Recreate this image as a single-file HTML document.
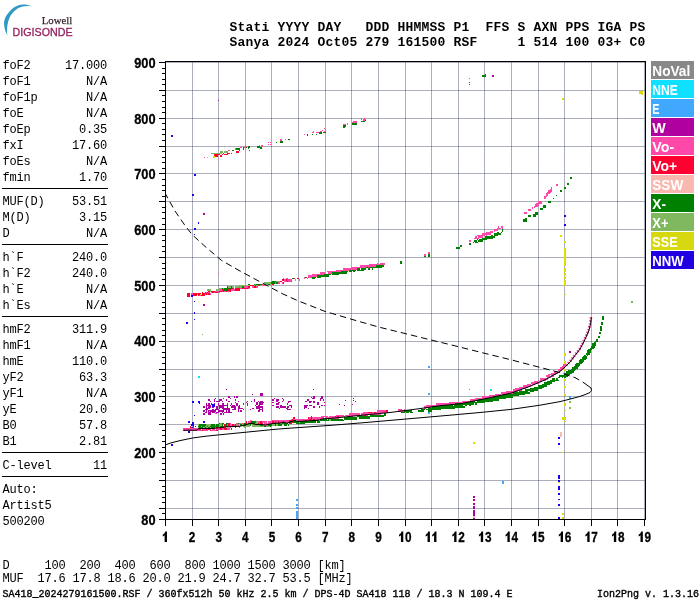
<!DOCTYPE html>
<html><head><meta charset="utf-8"><title>Ionogram</title>
<style>html,body{margin:0;padding:0;background:#fff;}svg{display:block;will-change:transform;}text{font-family:"Liberation Mono",monospace;}.m{font-family:"Liberation Mono",monospace;font-size:12px;letter-spacing:-0.2px;fill:#000;}.h{font-family:"Liberation Mono",monospace;font-size:13px;font-weight:bold;letter-spacing:0.2px;fill:#000;}.f{font-family:"Liberation Mono",monospace;font-size:10px;fill:#000;stroke:#000;stroke-width:0.35px;}.a{font-family:"Liberation Sans",sans-serif;font-size:14.7px;font-weight:bold;fill:#000;stroke:#000;stroke-width:0.3px;}.l{font-family:"Liberation Sans",sans-serif;font-size:14.2px;font-weight:bold;fill:#fff;}</style></head><body>
<svg width="700" height="600" viewBox="0 0 700 600">
<rect x="0" y="0" width="700" height="600" fill="#fff"/>
<g>
<path d="M32.3,6.4 C28,4.6 25,4.4 22.5,4.6 C18,5 14,7 11.2,9.8 C8,13 5.6,16.5 4.9,18.8 C4.1,21 3.9,23 4.1,24.8 C4.4,29 5.8,33 7.5,35.6 C7,33.5 6.9,32 7.1,30 C7.1,28 7.2,26.5 7.5,24.8 C8,22 8.7,19.5 9.75,17.25 C11,14.5 13,12.2 15,10.5 C17,8.8 19.5,7.3 22.5,6.6 C25.5,5.9 28.5,5.9 32.3,6.4 Z" fill="#2f98c4"/>
<text x="41.8" y="23.8" textLength="30.5" lengthAdjust="spacingAndGlyphs" style="font-family:'Liberation Serif',serif;font-size:11px;fill:#3a2832;stroke:#3a2832;stroke-width:0.25px">Lowell</text>
<text x="12.6" y="36" textLength="60" lengthAdjust="spacingAndGlyphs" style="font-family:'Liberation Sans',sans-serif;font-size:10.5px;fill:#94225f;stroke:#94225f;stroke-width:0.3px">DIGISONDE</text>
</g>
<text class="h" x="229.5" y="31" xml:space="preserve">Stati YYYY DAY   DDD HHMMSS P1  FFS S AXN PPS IGA PS</text>
<text class="h" x="229.5" y="46" xml:space="preserve">Sanya 2024 Oct05 279 161500 RSF     1 514 100 03+ C0</text>
<text class="m" x="2.5" y="68.5">foF2</text>
<text class="m" x="107" y="68.5" text-anchor="end">17.000</text>
<text class="m" x="2.5" y="84.5">foF1</text>
<text class="m" x="107" y="84.5" text-anchor="end">N/A</text>
<text class="m" x="2.5" y="100.5">foF1p</text>
<text class="m" x="107" y="100.5" text-anchor="end">N/A</text>
<text class="m" x="2.5" y="116.5">foE</text>
<text class="m" x="107" y="116.5" text-anchor="end">N/A</text>
<text class="m" x="2.5" y="132.5">foEp</text>
<text class="m" x="107" y="132.5" text-anchor="end">0.35</text>
<text class="m" x="2.5" y="148.5">fxI</text>
<text class="m" x="107" y="148.5" text-anchor="end">17.60</text>
<text class="m" x="2.5" y="164.5">foEs</text>
<text class="m" x="107" y="164.5" text-anchor="end">N/A</text>
<text class="m" x="2.5" y="180.5">fmin</text>
<text class="m" x="107" y="180.5" text-anchor="end">1.70</text>
<text class="m" x="2.5" y="204.5">MUF(D)</text>
<text class="m" x="107" y="204.5" text-anchor="end">53.51</text>
<text class="m" x="2.5" y="220.5">M(D)</text>
<text class="m" x="107" y="220.5" text-anchor="end">3.15</text>
<text class="m" x="2.5" y="236.5">D</text>
<text class="m" x="107" y="236.5" text-anchor="end">N/A</text>
<text class="m" x="2.5" y="260.5">h`F</text>
<text class="m" x="107" y="260.5" text-anchor="end">240.0</text>
<text class="m" x="2.5" y="276.5">h`F2</text>
<text class="m" x="107" y="276.5" text-anchor="end">240.0</text>
<text class="m" x="2.5" y="292.5">h`E</text>
<text class="m" x="107" y="292.5" text-anchor="end">N/A</text>
<text class="m" x="2.5" y="308.5">h`Es</text>
<text class="m" x="107" y="308.5" text-anchor="end">N/A</text>
<text class="m" x="2.5" y="332.5">hmF2</text>
<text class="m" x="107" y="332.5" text-anchor="end">311.9</text>
<text class="m" x="2.5" y="348.5">hmF1</text>
<text class="m" x="107" y="348.5" text-anchor="end">N/A</text>
<text class="m" x="2.5" y="364.5">hmE</text>
<text class="m" x="107" y="364.5" text-anchor="end">110.0</text>
<text class="m" x="2.5" y="380.5">yF2</text>
<text class="m" x="107" y="380.5" text-anchor="end">63.3</text>
<text class="m" x="2.5" y="396.5">yF1</text>
<text class="m" x="107" y="396.5" text-anchor="end">N/A</text>
<text class="m" x="2.5" y="412.5">yE</text>
<text class="m" x="107" y="412.5" text-anchor="end">20.0</text>
<text class="m" x="2.5" y="428.5">B0</text>
<text class="m" x="107" y="428.5" text-anchor="end">57.8</text>
<text class="m" x="2.5" y="444.5">B1</text>
<text class="m" x="107" y="444.5" text-anchor="end">2.81</text>
<text class="m" x="2.5" y="468.5">C-level</text>
<text class="m" x="107" y="468.5" text-anchor="end">11</text>
<text class="m" x="2.5" y="492.5">Auto:</text>
<text class="m" x="2.5" y="508.5">Artist5</text>
<text class="m" x="2.5" y="524.5">500200</text>
<rect x="2" y="188" width="106" height="1" fill="#000"/>
<rect x="2" y="244" width="106" height="1" fill="#000"/>
<rect x="2" y="316" width="106" height="1" fill="#000"/>
<rect x="2" y="452" width="106" height="1" fill="#000"/>
<rect x="2" y="476" width="106" height="1" fill="#000"/>
<text class="m" x="2.5" y="568.8" xml:space="preserve">D     100  200  400  600  800 1000 1500 3000 [km]</text>
<text class="m" x="2.5" y="582.4" xml:space="preserve">MUF  17.6 17.8 18.6 20.0 21.9 24.7 32.7 53.5 [MHz]</text>
<text class="f" x="2.5" y="596.5" xml:space="preserve">SA418_2024279161500.RSF / 360fx512h 50 kHz 2.5 km / DPS-4D SA418 118 / 18.3 N 109.4 E</text>
<text class="f" x="699" y="596.5" text-anchor="end" xml:space="preserve">Ion2Png v. 1.3.16</text>
<g shape-rendering="crispEdges" fill="#38405c" fill-opacity="0.42">
<rect x="192" y="62" width="1" height="457"/>
<rect x="218" y="62" width="1" height="457"/>
<rect x="245" y="62" width="1" height="457"/>
<rect x="271" y="62" width="1" height="457"/>
<rect x="298" y="62" width="1" height="457"/>
<rect x="325" y="62" width="1" height="457"/>
<rect x="351" y="62" width="1" height="457"/>
<rect x="378" y="62" width="1" height="457"/>
<rect x="405" y="62" width="1" height="457"/>
<rect x="431" y="62" width="1" height="457"/>
<rect x="458" y="62" width="1" height="457"/>
<rect x="484" y="62" width="1" height="457"/>
<rect x="511" y="62" width="1" height="457"/>
<rect x="538" y="62" width="1" height="457"/>
<rect x="564" y="62" width="1" height="457"/>
<rect x="591" y="62" width="1" height="457"/>
<rect x="617" y="62" width="1" height="457"/>
<rect x="644" y="62" width="1" height="457"/>
<rect x="166" y="508" width="479" height="1"/>
<rect x="166" y="480" width="479" height="1"/>
<rect x="166" y="452" width="479" height="1"/>
<rect x="166" y="424" width="479" height="1"/>
<rect x="166" y="396" width="479" height="1"/>
<rect x="166" y="369" width="479" height="1"/>
<rect x="166" y="341" width="479" height="1"/>
<rect x="166" y="313" width="479" height="1"/>
<rect x="166" y="285" width="479" height="1"/>
<rect x="166" y="257" width="479" height="1"/>
<rect x="166" y="229" width="479" height="1"/>
<rect x="166" y="201" width="479" height="1"/>
<rect x="166" y="173" width="479" height="1"/>
<rect x="166" y="146" width="479" height="1"/>
<rect x="166" y="118" width="479" height="1"/>
<rect x="166" y="90" width="479" height="1"/>
<rect x="166" y="62" width="479" height="1"/>
</g>
<g shape-rendering="crispEdges">
<path fill="#ff0030" d="M183.26 429.83h1.33v1.39h-1.33zM188.57 429.83h1.33v1.39h-1.33zM201.85 429.83h1.33v1.39h-1.33zM209.82 429.83h1.33v1.39h-1.33zM216.46 429.83h1.33v1.39h-1.33zM189.90 427.04h3.98v1.39h-3.98zM216.46 427.04h1.33v1.39h-1.33zM220.44 427.04h1.33v1.39h-1.33zM223.09 427.04h1.33v1.39h-1.33zM235.04 427.04h1.33v1.39h-1.33zM189.90 425.65h1.33v1.39h-1.33zM192.56 425.65h1.33v1.39h-1.33zM224.42 425.65h1.33v1.39h-1.33zM227.08 425.65h2.66v1.39h-2.66zM224.42 424.26h1.33v1.39h-1.33zM228.41 424.26h1.33v1.39h-1.33zM232.39 424.26h1.33v1.39h-1.33zM235.04 424.26h1.33v1.39h-1.33zM227.08 422.86h2.66v1.39h-2.66zM245.67 422.86h1.33v1.39h-1.33zM252.31 422.86h1.33v1.39h-1.33zM257.62 422.86h1.33v1.39h-1.33zM260.27 422.86h2.66v1.39h-2.66zM289.48 422.86h1.33v1.39h-1.33zM199.19 428.44h1.33v1.39h-1.33zM205.83 428.44h1.33v1.39h-1.33zM208.49 428.44h1.33v1.39h-1.33zM220.44 428.44h1.33v1.39h-1.33zM224.42 428.44h2.66v1.39h-2.66zM231.06 428.44h1.33v1.39h-1.33zM245.67 421.47h1.33v1.39h-1.33zM254.96 421.47h1.33v1.39h-1.33zM260.27 421.47h1.33v1.39h-1.33zM272.22 421.47h1.33v1.39h-1.33zM274.88 421.47h1.33v1.39h-1.33zM277.53 421.47h1.33v1.39h-1.33zM282.84 421.47h1.33v1.39h-1.33zM290.81 421.47h2.66v1.39h-2.66zM289.48 420.08h3.98v1.39h-3.98zM294.79 420.08h1.33v1.39h-1.33zM305.42 420.08h1.33v1.39h-1.33zM292.14 418.68h1.33v1.39h-1.33zM309.40 418.68h2.66v1.39h-2.66zM313.38 418.68h1.33v1.39h-1.33zM293.47 417.29h1.33v1.39h-1.33zM308.07 417.29h1.33v1.39h-1.33zM310.73 417.29h1.33v1.39h-1.33zM310.73 415.90h1.33v1.39h-1.33zM334.63 415.90h1.33v1.39h-1.33zM337.28 415.90h1.33v1.39h-1.33zM359.86 414.50h1.33v1.39h-1.33zM363.84 414.50h2.66v1.39h-2.66zM367.82 411.72h3.98v1.39h-3.98zM374.46 411.72h1.33v1.39h-1.33zM386.41 410.32h1.33v1.39h-1.33zM187.24 296.07h2.66v1.39h-2.66zM187.24 294.68h2.66v1.39h-2.66zM191.23 294.68h5.31v1.39h-5.31zM197.87 294.68h1.33v1.39h-1.33zM200.52 294.68h3.98v1.39h-3.98zM187.24 293.29h2.66v1.39h-2.66zM192.56 293.29h3.98v1.39h-3.98zM197.87 293.29h2.66v1.39h-2.66zM201.85 293.29h2.66v1.39h-2.66zM205.83 293.29h1.33v1.39h-1.33zM208.49 293.29h1.33v1.39h-1.33zM201.85 291.89h1.33v1.39h-1.33zM204.51 291.89h1.33v1.39h-1.33zM207.16 291.89h1.33v1.39h-1.33zM212.47 291.89h1.33v1.39h-1.33zM215.13 291.89h2.66v1.39h-2.66zM208.49 290.50h1.33v1.39h-1.33zM211.14 290.50h3.98v1.39h-3.98zM219.11 290.50h2.66v1.39h-2.66zM223.09 290.50h1.33v1.39h-1.33zM225.75 290.50h1.33v1.39h-1.33zM229.73 290.50h1.33v1.39h-1.33zM221.77 289.11h2.66v1.39h-2.66zM228.41 289.11h2.66v1.39h-2.66zM235.04 289.11h5.31v1.39h-5.31zM232.39 287.71h1.33v1.39h-1.33zM235.04 287.71h5.31v1.39h-5.31zM241.68 287.71h6.64v1.39h-6.64zM243.01 286.32h1.33v1.39h-1.33zM248.32 286.32h1.33v1.39h-1.33zM253.63 286.32h2.66v1.39h-2.66zM249.65 284.93h1.33v1.39h-1.33zM252.31 284.93h1.33v1.39h-1.33zM257.62 284.93h1.33v1.39h-1.33zM272.22 283.53h1.33v1.39h-1.33zM280.19 280.75h1.33v1.39h-1.33zM286.83 280.75h1.33v1.39h-1.33zM290.81 280.75h1.33v1.39h-1.33zM281.52 279.35h1.33v1.39h-1.33zM285.50 279.35h1.33v1.39h-1.33zM282.84 282.14h1.33v1.39h-1.33zM293.47 277.96h1.33v1.39h-1.33zM297.45 277.96h1.33v1.39h-1.33zM305.42 276.57h1.33v1.39h-1.33zM213.80 155.35h3.98v1.39h-3.98zM220.44 155.35h1.33v1.39h-1.33zM213.80 153.96h6.64v1.39h-6.64zM221.77 153.96h1.33v1.39h-1.33zM224.42 153.96h3.98v1.39h-3.98zM223.09 152.56h1.33v1.39h-1.33zM227.08 152.56h2.66v1.39h-2.66zM231.06 152.56h1.33v1.39h-1.33zM236.37 151.17h2.66v1.39h-2.66zM239.03 149.78h1.33v1.39h-1.33z"/>
<path fill="#ff48a8" d="M183.26 428.44h15.93v1.39h-15.93zM201.85 428.44h3.98v1.39h-3.98zM207.16 428.44h1.33v1.39h-1.33zM209.82 428.44h1.33v1.39h-1.33zM212.47 428.44h2.66v1.39h-2.66zM216.46 428.44h3.98v1.39h-3.98zM221.77 428.44h2.66v1.39h-2.66zM227.08 428.44h2.66v1.39h-2.66zM184.59 429.83h3.98v1.39h-3.98zM189.90 429.83h6.64v1.39h-6.64zM197.87 429.83h3.98v1.39h-3.98zM203.18 429.83h5.31v1.39h-5.31zM211.14 429.83h5.31v1.39h-5.31zM217.78 427.04h2.66v1.39h-2.66zM221.77 427.04h1.33v1.39h-1.33zM224.42 427.04h1.33v1.39h-1.33zM229.73 427.04h1.33v1.39h-1.33zM239.03 427.04h1.33v1.39h-1.33zM227.08 424.26h1.33v1.39h-1.33zM229.73 424.26h1.33v1.39h-1.33zM233.72 424.26h1.33v1.39h-1.33zM237.70 424.26h1.33v1.39h-1.33zM243.01 424.26h1.33v1.39h-1.33zM264.26 424.26h2.66v1.39h-2.66zM229.73 425.65h1.33v1.39h-1.33zM235.04 425.65h3.98v1.39h-3.98zM243.01 425.65h1.33v1.39h-1.33zM229.73 422.86h1.33v1.39h-1.33zM236.37 422.86h1.33v1.39h-1.33zM239.03 422.86h1.33v1.39h-1.33zM241.68 422.86h2.66v1.39h-2.66zM246.99 422.86h1.33v1.39h-1.33zM264.26 422.86h9.29v1.39h-9.29zM248.32 421.47h2.66v1.39h-2.66zM257.62 421.47h2.66v1.39h-2.66zM261.60 421.47h5.31v1.39h-5.31zM268.24 421.47h3.98v1.39h-3.98zM273.55 421.47h1.33v1.39h-1.33zM276.21 421.47h1.33v1.39h-1.33zM278.86 421.47h3.98v1.39h-3.98zM284.17 421.47h5.31v1.39h-5.31zM249.65 420.08h1.33v1.39h-1.33zM272.22 420.08h17.26v1.39h-17.26zM297.45 420.08h7.97v1.39h-7.97zM306.74 420.08h3.98v1.39h-3.98zM290.81 418.68h1.33v1.39h-1.33zM293.47 418.68h15.93v1.39h-15.93zM312.06 418.68h1.33v1.39h-1.33zM314.71 418.68h6.64v1.39h-6.64zM309.40 417.29h1.33v1.39h-1.33zM312.06 417.29h11.95v1.39h-11.95zM325.33 417.29h13.28v1.39h-13.28zM321.35 415.90h6.64v1.39h-6.64zM329.32 415.90h5.31v1.39h-5.31zM335.96 415.90h1.33v1.39h-1.33zM338.61 415.90h6.64v1.39h-6.64zM346.58 415.90h6.64v1.39h-6.64zM335.96 414.50h7.97v1.39h-7.97zM345.25 414.50h14.61v1.39h-14.61zM361.18 414.50h2.66v1.39h-2.66zM366.49 414.50h1.33v1.39h-1.33zM349.23 413.11h10.62v1.39h-10.62zM361.18 413.11h19.92v1.39h-19.92zM362.51 411.72h5.31v1.39h-5.31zM371.81 411.72h2.66v1.39h-2.66zM375.79 411.72h11.95v1.39h-11.95zM377.12 410.32h9.29v1.39h-9.29zM398.36 410.32h5.31v1.39h-5.31zM398.36 408.93h3.98v1.39h-3.98zM403.67 408.93h1.33v1.39h-1.33zM423.59 407.54h2.66v1.39h-2.66zM423.59 406.14h7.97v1.39h-7.97zM426.24 404.75h14.61v1.39h-14.61zM435.54 403.36h19.92v1.39h-19.92zM448.82 401.96h15.93v1.39h-15.93zM462.09 400.57h9.29v1.39h-9.29zM470.06 399.18h7.97v1.39h-7.97zM475.37 397.78h9.29v1.39h-9.29zM482.01 396.39h10.62v1.39h-10.62zM488.65 395.00h10.62v1.39h-10.62zM495.29 393.60h5.31v1.39h-5.31zM501.93 393.60h3.98v1.39h-3.98zM500.60 392.21h11.95v1.39h-11.95zM505.91 390.82h11.95v1.39h-11.95zM512.55 389.42h9.29v1.39h-9.29zM515.21 388.03h10.62v1.39h-10.62zM519.19 386.64h9.29v1.39h-9.29zM523.17 385.24h7.97v1.39h-7.97zM527.16 383.85h3.98v1.39h-3.98zM532.47 383.85h2.66v1.39h-2.66zM531.14 382.46h7.97v1.39h-7.97zM533.79 381.06h3.98v1.39h-3.98zM539.11 381.06h2.66v1.39h-2.66zM537.78 379.67h1.33v1.39h-1.33zM540.43 379.67h1.33v1.39h-1.33zM543.09 379.67h2.66v1.39h-2.66zM540.43 378.28h7.97v1.39h-7.97zM545.74 375.49h3.98v1.39h-3.98zM551.06 375.49h2.66v1.39h-2.66zM547.07 376.88h3.98v1.39h-3.98zM548.40 374.10h7.97v1.39h-7.97zM551.06 372.70h6.64v1.39h-6.64zM553.71 371.31h3.98v1.39h-3.98zM559.02 371.31h1.33v1.39h-1.33zM557.69 369.92h3.98v1.39h-3.98zM557.69 368.52h5.31v1.39h-5.31zM560.35 367.13h3.98v1.39h-3.98zM561.68 365.74h3.98v1.39h-3.98zM563.01 364.34h2.66v1.39h-2.66zM191.23 296.07h1.33v1.39h-1.33zM191.23 293.29h1.33v1.39h-1.33zM196.54 293.29h1.33v1.39h-1.33zM204.51 293.29h1.33v1.39h-1.33zM207.16 293.29h1.33v1.39h-1.33zM209.82 293.29h1.33v1.39h-1.33zM199.19 294.68h1.33v1.39h-1.33zM205.83 291.89h1.33v1.39h-1.33zM208.49 291.89h1.33v1.39h-1.33zM211.14 291.89h1.33v1.39h-1.33zM213.80 291.89h1.33v1.39h-1.33zM217.78 291.89h2.66v1.39h-2.66zM215.13 290.50h3.98v1.39h-3.98zM221.77 290.50h1.33v1.39h-1.33zM224.42 290.50h1.33v1.39h-1.33zM227.08 290.50h2.66v1.39h-2.66zM220.44 289.11h1.33v1.39h-1.33zM231.06 289.11h3.98v1.39h-3.98zM239.03 286.32h1.33v1.39h-1.33zM244.34 286.32h3.98v1.39h-3.98zM252.31 286.32h1.33v1.39h-1.33zM256.29 286.32h1.33v1.39h-1.33zM240.36 287.71h1.33v1.39h-1.33zM248.32 287.71h1.33v1.39h-1.33zM261.60 284.93h3.98v1.39h-3.98zM261.60 283.53h2.66v1.39h-2.66zM277.53 282.14h2.66v1.39h-2.66zM281.52 282.14h1.33v1.39h-1.33zM284.17 280.75h2.66v1.39h-2.66zM288.16 280.75h2.66v1.39h-2.66zM284.17 279.35h1.33v1.39h-1.33zM286.83 279.35h5.31v1.39h-5.31zM282.84 277.96h1.33v1.39h-1.33zM285.50 277.96h2.66v1.39h-2.66zM304.09 277.96h1.33v1.39h-1.33zM306.74 277.96h1.33v1.39h-1.33zM308.07 276.57h3.98v1.39h-3.98zM308.07 275.17h9.29v1.39h-9.29zM312.06 273.78h11.95v1.39h-11.95zM320.02 272.39h5.31v1.39h-5.31zM327.99 272.39h3.98v1.39h-3.98zM326.66 270.99h14.61v1.39h-14.61zM335.96 269.60h13.28v1.39h-13.28zM342.59 268.21h14.61v1.39h-14.61zM350.56 266.81h15.93v1.39h-15.93zM367.82 266.81h1.33v1.39h-1.33zM359.86 265.42h15.93v1.39h-15.93zM369.15 264.03h11.95v1.39h-11.95zM382.43 264.03h2.66v1.39h-2.66zM377.12 262.63h1.33v1.39h-1.33zM379.77 262.63h5.31v1.39h-5.31zM468.73 240.34h2.66v1.39h-2.66zM474.04 237.55h5.31v1.39h-5.31zM475.37 236.16h1.33v1.39h-1.33zM478.03 236.16h5.31v1.39h-5.31zM476.70 234.77h7.97v1.39h-7.97zM485.99 234.77h1.33v1.39h-1.33zM482.01 233.38h9.29v1.39h-9.29zM485.99 231.98h6.64v1.39h-6.64zM489.98 230.59h2.66v1.39h-2.66zM493.96 230.59h1.33v1.39h-1.33zM493.96 229.20h3.98v1.39h-3.98zM496.62 227.80h3.98v1.39h-3.98zM501.93 227.80h1.33v1.39h-1.33zM497.94 226.41h1.33v1.39h-1.33zM500.60 226.41h2.66v1.39h-2.66zM533.79 206.90h1.33v1.39h-1.33zM533.79 205.51h3.98v1.39h-3.98zM535.12 204.12h3.98v1.39h-3.98zM536.45 202.72h5.31v1.39h-5.31zM537.78 201.33h3.98v1.39h-3.98zM544.42 197.15h1.33v1.39h-1.33zM544.42 195.76h2.66v1.39h-2.66zM545.74 194.36h2.66v1.39h-2.66zM545.74 192.97h3.98v1.39h-3.98zM547.07 191.58h3.98v1.39h-3.98zM548.40 190.18h3.98v1.39h-3.98zM549.73 188.79h2.66v1.39h-2.66zM551.06 187.40h1.33v1.39h-1.33zM227.08 151.17h1.33v1.39h-1.33zM228.41 149.78h1.33v1.39h-1.33zM235.04 148.38h1.33v1.39h-1.33zM240.36 146.99h1.33v1.39h-1.33zM244.34 146.99h1.33v1.39h-1.33zM245.67 145.60h1.33v1.39h-1.33zM380.00 263.30h5.00v1.60h-5.00zM424.00 254.00h2.00v2.00h-2.00zM428.00 252.00h2.00v2.00h-2.00zM524.00 212.00h2.60v2.20h-2.60zM528.30 209.40h2.20v1.60h-2.20zM531.70 207.40h1.70v1.60h-1.70zM556.00 184.00h2.00v2.00h-2.00zM540.00 201.50h2.00v1.50h-2.00zM204.00 156.50h1.00v1.00h-1.00zM260.50 144.50h2.00v2.50h-2.00zM267.50 142.30h1.00v1.00h-1.00zM270.00 142.30h1.00v1.00h-1.00zM267.50 144.30h1.00v1.00h-1.00zM270.00 144.30h1.00v1.00h-1.00zM280.30 139.00h2.00v2.00h-2.00zM285.00 139.00h1.20v1.20h-1.20zM304.00 134.00h1.30v1.30h-1.30zM311.50 131.50h2.00v1.00h-2.00zM312.50 130.50h1.30v1.00h-1.30zM316.00 131.50h2.50v1.30h-2.50zM320.00 131.00h2.00v1.30h-2.00zM322.00 130.00h1.30v1.30h-1.30zM323.50 128.00h1.30v1.30h-1.30zM325.00 128.50h1.00v1.00h-1.00zM323.50 130.50h2.00v1.00h-2.00zM343.30 124.00h2.50v1.20h-2.50zM347.00 123.20h1.20v1.80h-1.20zM351.50 121.50h2.00v2.00h-2.00zM353.00 120.50h4.00v2.80h-4.00zM361.00 118.30h1.30v1.30h-1.30zM363.00 119.00h2.50v1.50h-2.50zM364.00 118.00h1.30v1.00h-1.30zM214.50 412.80h2.00v1.50h-2.00zM218.00 273.00h1.00v1.00h-1.00zM469.00 389.00h1.00v1.00h-1.00zM474.50 398.00h1.00v1.00h-1.00zM469.00 78.00h1.00v1.00h-1.00z"/>
<path fill="#80b860" d="M197.87 427.04h1.33v1.39h-1.33zM203.18 427.04h1.33v1.39h-1.33zM205.83 427.04h2.66v1.39h-2.66zM209.82 427.04h1.33v1.39h-1.33zM215.13 427.04h1.33v1.39h-1.33zM244.34 427.04h1.33v1.39h-1.33zM197.87 424.26h1.33v1.39h-1.33zM205.83 424.26h5.31v1.39h-5.31zM215.13 424.26h1.33v1.39h-1.33zM219.11 424.26h2.66v1.39h-2.66zM231.06 424.26h1.33v1.39h-1.33zM236.37 424.26h1.33v1.39h-1.33zM241.68 424.26h1.33v1.39h-1.33zM245.67 424.26h3.98v1.39h-3.98zM252.31 424.26h7.97v1.39h-7.97zM262.93 424.26h1.33v1.39h-1.33zM266.91 424.26h1.33v1.39h-1.33zM272.22 424.26h2.66v1.39h-2.66zM276.21 424.26h1.33v1.39h-1.33zM200.52 425.65h1.33v1.39h-1.33zM204.51 425.65h2.66v1.39h-2.66zM208.49 425.65h1.33v1.39h-1.33zM219.11 425.65h1.33v1.39h-1.33zM232.39 425.65h1.33v1.39h-1.33zM244.34 425.65h5.31v1.39h-5.31zM252.31 425.65h11.95v1.39h-11.95zM265.58 425.65h3.98v1.39h-3.98zM270.89 425.65h1.33v1.39h-1.33zM220.44 422.86h1.33v1.39h-1.33zM240.36 422.86h1.33v1.39h-1.33zM249.65 422.86h1.33v1.39h-1.33zM254.96 422.86h2.66v1.39h-2.66zM258.94 422.86h1.33v1.39h-1.33zM274.88 422.86h2.66v1.39h-2.66zM280.19 422.86h1.33v1.39h-1.33zM285.50 422.86h1.33v1.39h-1.33zM250.98 420.08h1.33v1.39h-1.33zM310.73 420.08h1.33v1.39h-1.33zM329.32 420.08h1.33v1.39h-1.33zM256.29 421.47h1.33v1.39h-1.33zM298.78 421.47h1.33v1.39h-1.33zM329.32 418.68h1.33v1.39h-1.33zM209.82 290.50h1.33v1.39h-1.33zM207.16 289.11h3.98v1.39h-3.98zM216.46 289.11h3.98v1.39h-3.98zM228.41 286.32h2.66v1.39h-2.66zM232.39 286.32h1.33v1.39h-1.33zM235.04 286.32h3.98v1.39h-3.98zM240.36 286.32h1.33v1.39h-1.33zM239.03 284.93h3.98v1.39h-3.98zM244.34 284.93h2.66v1.39h-2.66zM248.32 284.93h1.33v1.39h-1.33zM253.63 284.93h1.33v1.39h-1.33zM256.29 284.93h1.33v1.39h-1.33zM260.27 284.93h1.33v1.39h-1.33zM254.96 283.53h1.33v1.39h-1.33zM264.26 283.53h3.98v1.39h-3.98zM269.57 283.53h1.33v1.39h-1.33zM264.26 282.14h6.64v1.39h-6.64zM274.88 282.14h1.33v1.39h-1.33zM270.89 280.75h1.33v1.39h-1.33zM276.21 280.75h3.98v1.39h-3.98zM219.11 287.71h2.66v1.39h-2.66zM223.09 287.71h1.33v1.39h-1.33zM294.79 279.35h1.33v1.39h-1.33zM298.78 279.35h1.33v1.39h-1.33zM304.09 276.57h1.33v1.39h-1.33zM211.14 152.56h10.62v1.39h-10.62zM220.44 151.17h2.66v1.39h-2.66zM246.99 145.60h1.33v1.39h-1.33zM224.00 150.50h2.50v2.50h-2.50zM258.50 145.00h1.50v1.50h-1.50zM264.50 146.00h1.00v1.00h-1.00zM202.00 334.00h1.00v1.00h-1.00zM631.00 301.00h2.00v2.00h-2.00zM569.00 400.50h2.00v2.00h-2.00zM569.00 407.00h2.00v1.50h-2.00z"/>
<path fill="#008000" d="M197.87 425.65h2.66v1.39h-2.66zM201.85 425.65h2.66v1.39h-2.66zM207.16 425.65h1.33v1.39h-1.33zM209.82 425.65h9.29v1.39h-9.29zM220.44 425.65h3.98v1.39h-3.98zM225.75 425.65h1.33v1.39h-1.33zM231.06 425.65h1.33v1.39h-1.33zM233.72 425.65h1.33v1.39h-1.33zM239.03 425.65h1.33v1.39h-1.33zM264.26 425.65h1.33v1.39h-1.33zM269.57 425.65h1.33v1.39h-1.33zM199.19 427.04h3.98v1.39h-3.98zM204.51 427.04h1.33v1.39h-1.33zM208.49 427.04h1.33v1.39h-1.33zM211.14 427.04h3.98v1.39h-3.98zM199.19 424.26h6.64v1.39h-6.64zM211.14 424.26h3.98v1.39h-3.98zM216.46 424.26h2.66v1.39h-2.66zM221.77 424.26h1.33v1.39h-1.33zM225.75 424.26h1.33v1.39h-1.33zM240.36 424.26h1.33v1.39h-1.33zM244.34 424.26h1.33v1.39h-1.33zM249.65 424.26h1.33v1.39h-1.33zM260.27 424.26h2.66v1.39h-2.66zM268.24 424.26h3.98v1.39h-3.98zM274.88 424.26h1.33v1.39h-1.33zM277.53 424.26h3.98v1.39h-3.98zM284.17 424.26h2.66v1.39h-2.66zM288.16 424.26h1.33v1.39h-1.33zM219.11 422.86h1.33v1.39h-1.33zM221.77 422.86h2.66v1.39h-2.66zM225.75 422.86h1.33v1.39h-1.33zM237.70 422.86h1.33v1.39h-1.33zM244.34 422.86h1.33v1.39h-1.33zM248.32 422.86h1.33v1.39h-1.33zM250.98 422.86h1.33v1.39h-1.33zM253.63 422.86h1.33v1.39h-1.33zM273.55 422.86h1.33v1.39h-1.33zM277.53 422.86h2.66v1.39h-2.66zM281.52 422.86h3.98v1.39h-3.98zM286.83 422.86h1.33v1.39h-1.33zM290.81 422.86h1.33v1.39h-1.33zM296.12 422.86h9.29v1.39h-9.29zM250.98 421.47h3.98v1.39h-3.98zM289.48 421.47h1.33v1.39h-1.33zM293.47 421.47h5.31v1.39h-5.31zM300.11 421.47h15.93v1.39h-15.93zM317.37 421.47h2.66v1.39h-2.66zM293.47 420.08h1.33v1.39h-1.33zM312.06 420.08h6.64v1.39h-6.64zM320.02 420.08h9.29v1.39h-9.29zM330.64 420.08h13.28v1.39h-13.28zM321.35 418.68h5.31v1.39h-5.31zM327.99 418.68h1.33v1.39h-1.33zM330.64 418.68h11.95v1.39h-11.95zM343.92 418.68h13.28v1.39h-13.28zM343.92 417.29h13.28v1.39h-13.28zM358.53 417.29h11.95v1.39h-11.95zM357.20 415.90h26.56v1.39h-26.56zM370.48 414.50h15.93v1.39h-15.93zM383.76 413.11h2.66v1.39h-2.66zM403.67 410.32h7.97v1.39h-7.97zM418.28 410.32h5.31v1.39h-5.31zM427.57 410.32h3.98v1.39h-3.98zM401.02 411.72h3.98v1.39h-3.98zM406.33 411.72h2.66v1.39h-2.66zM410.31 411.72h2.66v1.39h-2.66zM420.93 408.93h3.98v1.39h-3.98zM426.24 408.93h14.61v1.39h-14.61zM431.56 406.14h33.19v1.39h-33.19zM440.85 404.75h11.95v1.39h-11.95zM454.13 404.75h9.29v1.39h-9.29zM464.75 404.75h2.66v1.39h-2.66zM468.73 404.75h2.66v1.39h-2.66zM455.46 403.36h18.59v1.39h-18.59zM475.37 403.36h1.33v1.39h-1.33zM464.75 401.96h19.92v1.39h-19.92zM471.39 400.57h3.98v1.39h-3.98zM476.70 400.57h15.93v1.39h-15.93zM478.03 399.18h21.24v1.39h-21.24zM484.67 397.78h21.24v1.39h-21.24zM492.63 396.39h19.92v1.39h-19.92zM499.27 395.00h19.92v1.39h-19.92zM505.91 393.60h18.59v1.39h-18.59zM512.55 392.21h17.26v1.39h-17.26zM427.57 407.54h27.88v1.39h-27.88zM519.19 390.82h9.29v1.39h-9.29zM529.81 390.82h3.98v1.39h-3.98zM524.50 389.42h13.28v1.39h-13.28zM529.81 388.03h11.95v1.39h-11.95zM533.79 386.64h10.62v1.39h-10.62zM537.78 385.24h9.29v1.39h-9.29zM541.76 383.85h7.97v1.39h-7.97zM544.42 382.46h7.97v1.39h-7.97zM547.07 381.06h7.97v1.39h-7.97zM549.73 379.67h9.29v1.39h-9.29zM552.38 378.28h2.66v1.39h-2.66zM556.37 378.28h1.33v1.39h-1.33zM557.69 376.88h2.66v1.39h-2.66zM561.68 376.88h1.33v1.39h-1.33zM564.33 376.88h1.33v1.39h-1.33zM559.02 375.49h9.29v1.39h-9.29zM564.33 374.10h5.31v1.39h-5.31zM564.33 372.70h7.97v1.39h-7.97zM565.66 371.31h7.97v1.39h-7.97zM568.32 369.92h6.64v1.39h-6.64zM570.97 368.52h5.31v1.39h-5.31zM572.30 367.13h5.31v1.39h-5.31zM573.63 365.74h5.31v1.39h-5.31zM574.96 364.34h5.31v1.39h-5.31zM576.28 362.95h5.31v1.39h-5.31zM578.94 361.56h3.98v1.39h-3.98zM578.94 360.16h5.31v1.39h-5.31zM580.27 358.77h5.31v1.39h-5.31zM581.59 357.38h5.31v1.39h-5.31zM582.92 355.98h3.98v1.39h-3.98zM584.25 354.59h1.33v1.39h-1.33zM586.91 354.59h1.33v1.39h-1.33zM585.58 353.20h3.98v1.39h-3.98zM586.91 351.80h3.98v1.39h-3.98zM586.91 350.41h3.98v1.39h-3.98zM588.23 349.02h3.98v1.39h-3.98zM589.56 347.62h3.98v1.39h-3.98zM590.89 346.23h3.98v1.39h-3.98zM592.22 344.84h3.98v1.39h-3.98zM592.22 343.45h3.98v1.39h-3.98zM593.54 342.05h2.66v1.39h-2.66zM594.87 340.66h1.33v1.39h-1.33zM224.42 289.11h3.98v1.39h-3.98zM221.77 287.71h1.33v1.39h-1.33zM224.42 287.71h7.97v1.39h-7.97zM227.08 286.32h1.33v1.39h-1.33zM231.06 286.32h1.33v1.39h-1.33zM241.68 286.32h1.33v1.39h-1.33zM250.98 284.93h1.33v1.39h-1.33zM254.96 284.93h1.33v1.39h-1.33zM258.94 284.93h1.33v1.39h-1.33zM248.32 283.53h1.33v1.39h-1.33zM253.63 283.53h1.33v1.39h-1.33zM256.29 283.53h5.31v1.39h-5.31zM268.24 283.53h1.33v1.39h-1.33zM270.89 282.14h3.98v1.39h-3.98zM276.21 282.14h1.33v1.39h-1.33zM272.22 280.75h3.98v1.39h-3.98zM282.84 279.35h1.33v1.39h-1.33zM292.14 277.96h1.33v1.39h-1.33zM312.06 277.96h2.66v1.39h-2.66zM324.01 273.78h6.64v1.39h-6.64zM331.97 273.78h6.64v1.39h-6.64zM331.97 272.39h14.61v1.39h-14.61zM341.27 270.99h6.64v1.39h-6.64zM349.23 270.99h2.66v1.39h-2.66zM353.22 270.99h1.33v1.39h-1.33zM349.23 269.60h6.64v1.39h-6.64zM357.20 269.60h6.64v1.39h-6.64zM357.20 268.21h2.66v1.39h-2.66zM361.18 268.21h5.31v1.39h-5.31zM367.82 268.21h2.66v1.39h-2.66zM371.81 268.21h1.33v1.39h-1.33zM366.49 266.81h1.33v1.39h-1.33zM369.15 266.81h13.28v1.39h-13.28zM375.79 265.42h5.31v1.39h-5.31zM382.43 265.42h1.33v1.39h-1.33zM312.06 276.57h3.98v1.39h-3.98zM317.37 276.57h3.98v1.39h-3.98zM317.37 275.17h11.95v1.39h-11.95zM468.73 243.13h2.66v1.39h-2.66zM472.72 241.73h1.33v1.39h-1.33zM475.37 241.73h2.66v1.39h-2.66zM474.04 240.34h2.66v1.39h-2.66zM478.03 240.34h5.31v1.39h-5.31zM476.70 238.95h1.33v1.39h-1.33zM479.36 238.95h7.97v1.39h-7.97zM482.01 237.55h10.62v1.39h-10.62zM484.67 236.16h10.62v1.39h-10.62zM491.31 234.77h1.33v1.39h-1.33zM493.96 234.77h3.98v1.39h-3.98zM493.96 233.38h6.64v1.39h-6.64zM496.62 231.98h2.66v1.39h-2.66zM500.60 231.98h1.33v1.39h-1.33zM501.93 230.59h1.33v1.39h-1.33zM501.93 229.20h1.33v1.39h-1.33zM232.39 149.78h1.33v1.39h-1.33zM236.37 148.38h3.98v1.39h-3.98zM243.01 146.99h1.33v1.39h-1.33zM245.67 146.99h1.33v1.39h-1.33zM248.32 145.60h1.33v1.39h-1.33zM596.00 339.00h2.00v3.00h-2.00zM597.50 335.75h2.00v2.50h-2.00zM598.80 331.75h2.00v2.50h-2.00zM599.80 326.25h2.00v4.50h-2.00zM601.30 322.00h2.00v3.00h-2.00zM602.30 316.10h2.00v3.80h-2.00zM380.00 265.00h3.00v2.00h-3.00zM400.00 261.00h2.00v3.00h-2.00zM424.00 256.00h2.00v1.40h-2.00zM428.00 254.00h2.00v3.00h-2.00zM456.00 247.00h4.00v1.60h-4.00zM460.00 245.00h2.00v2.00h-2.00zM522.50 218.50h4.00v3.00h-4.00zM525.00 217.50h2.00v2.00h-2.00zM528.30 215.40h2.60v1.80h-2.60zM532.50 213.50h3.00v3.00h-3.00zM535.00 211.70h3.00v3.00h-3.00zM534.00 214.50h1.50v1.50h-1.50zM540.30 207.50h2.80v2.50h-2.80zM542.50 205.00h3.00v3.00h-3.00zM548.00 201.00h3.00v2.40h-3.00zM553.00 197.80h1.20v1.20h-1.20zM556.00 195.00h1.20v1.20h-1.20zM560.00 189.50h2.00v2.00h-2.00zM563.50 186.50h2.00v2.00h-2.00zM567.00 182.50h2.00v2.00h-2.00zM570.00 177.00h2.00v2.00h-2.00zM242.50 148.00h1.50v1.50h-1.50zM248.00 146.50h1.50v1.00h-1.50zM247.50 148.00h1.50v1.20h-1.50zM248.50 149.50h1.00v1.00h-1.00zM256.50 145.50h3.00v2.50h-3.00zM260.00 146.50h2.00v2.00h-2.00zM276.00 142.00h1.30v1.30h-1.30zM279.50 141.00h3.00v2.00h-3.00zM287.50 138.50h2.00v1.50h-2.00zM307.00 134.00h1.20v2.00h-1.20zM312.00 134.00h1.30v1.00h-1.30zM315.50 134.00h1.30v1.00h-1.30zM319.00 132.30h3.00v1.40h-3.00zM323.00 131.60h3.00v1.60h-3.00zM343.30 125.30h2.50v1.20h-2.50zM343.30 127.20h2.00v1.00h-2.00zM351.50 123.30h5.50v1.80h-5.50zM360.50 120.60h4.50v1.80h-4.50zM365.00 120.00h1.30v1.30h-1.30zM469.00 82.00h1.00v1.00h-1.00zM469.00 84.00h1.00v1.00h-1.00zM482.00 75.00h4.00v2.00h-4.00zM485.00 74.00h1.00v1.00h-1.00z"/>
<path fill="#b000a0" d="M205.83 407.54h3.98v1.39h-3.98zM216.46 407.54h1.33v1.39h-1.33zM219.11 407.54h1.33v1.39h-1.33zM221.77 407.54h7.97v1.39h-7.97zM233.72 407.54h2.66v1.39h-2.66zM237.70 407.54h5.31v1.39h-5.31zM252.31 407.54h1.33v1.39h-1.33zM256.29 407.54h3.98v1.39h-3.98zM261.60 407.54h1.33v1.39h-1.33zM278.86 407.54h1.33v1.39h-1.33zM285.50 407.54h2.66v1.39h-2.66zM304.09 407.54h1.33v1.39h-1.33zM308.07 407.54h1.33v1.39h-1.33zM203.18 410.32h1.33v1.39h-1.33zM205.83 410.32h1.33v1.39h-1.33zM208.49 410.32h7.97v1.39h-7.97zM217.78 410.32h6.64v1.39h-6.64zM225.75 410.32h1.33v1.39h-1.33zM228.41 410.32h1.33v1.39h-1.33zM237.70 410.32h1.33v1.39h-1.33zM240.36 410.32h1.33v1.39h-1.33zM257.62 410.32h2.66v1.39h-2.66zM261.60 410.32h1.33v1.39h-1.33zM204.51 411.72h2.66v1.39h-2.66zM208.49 411.72h2.66v1.39h-2.66zM212.47 411.72h2.66v1.39h-2.66zM216.46 411.72h2.66v1.39h-2.66zM221.77 411.72h1.33v1.39h-1.33zM224.42 411.72h7.97v1.39h-7.97zM203.18 406.14h1.33v1.39h-1.33zM205.83 406.14h1.33v1.39h-1.33zM208.49 406.14h2.66v1.39h-2.66zM212.47 406.14h1.33v1.39h-1.33zM216.46 406.14h1.33v1.39h-1.33zM219.11 406.14h5.31v1.39h-5.31zM227.08 406.14h1.33v1.39h-1.33zM231.06 406.14h5.31v1.39h-5.31zM237.70 406.14h2.66v1.39h-2.66zM256.29 406.14h6.64v1.39h-6.64zM276.21 406.14h2.66v1.39h-2.66zM280.19 406.14h5.31v1.39h-5.31zM286.83 406.14h2.66v1.39h-2.66zM290.81 406.14h1.33v1.39h-1.33zM304.09 406.14h2.66v1.39h-2.66zM313.38 406.14h1.33v1.39h-1.33zM318.69 406.14h1.33v1.39h-1.33zM205.83 404.75h5.31v1.39h-5.31zM217.78 404.75h10.62v1.39h-10.62zM229.73 404.75h1.33v1.39h-1.33zM232.39 404.75h2.66v1.39h-2.66zM236.37 404.75h1.33v1.39h-1.33zM239.03 404.75h1.33v1.39h-1.33zM246.99 404.75h1.33v1.39h-1.33zM254.96 404.75h1.33v1.39h-1.33zM257.62 404.75h2.66v1.39h-2.66zM272.22 404.75h1.33v1.39h-1.33zM280.19 404.75h1.33v1.39h-1.33zM289.48 404.75h2.66v1.39h-2.66zM304.09 404.75h3.98v1.39h-3.98zM309.40 404.75h2.66v1.39h-2.66zM321.35 404.75h1.33v1.39h-1.33zM324.01 404.75h1.33v1.39h-1.33zM203.18 413.11h1.33v1.39h-1.33zM208.49 413.11h2.66v1.39h-2.66zM220.44 413.11h1.33v1.39h-1.33zM223.09 413.11h1.33v1.39h-1.33zM204.51 408.93h3.98v1.39h-3.98zM212.47 408.93h1.33v1.39h-1.33zM215.13 408.93h3.98v1.39h-3.98zM223.09 408.93h6.64v1.39h-6.64zM232.39 408.93h3.98v1.39h-3.98zM237.70 408.93h1.33v1.39h-1.33zM243.01 408.93h1.33v1.39h-1.33zM249.65 408.93h1.33v1.39h-1.33zM258.94 408.93h3.98v1.39h-3.98zM286.83 408.93h3.98v1.39h-3.98zM205.83 403.36h1.33v1.39h-1.33zM208.49 403.36h1.33v1.39h-1.33zM211.14 403.36h1.33v1.39h-1.33zM213.80 403.36h1.33v1.39h-1.33zM217.78 403.36h1.33v1.39h-1.33zM221.77 403.36h2.66v1.39h-2.66zM227.08 403.36h1.33v1.39h-1.33zM231.06 403.36h1.33v1.39h-1.33zM236.37 403.36h1.33v1.39h-1.33zM243.01 403.36h1.33v1.39h-1.33zM246.99 403.36h1.33v1.39h-1.33zM256.29 403.36h1.33v1.39h-1.33zM258.94 403.36h3.98v1.39h-3.98zM276.21 403.36h2.66v1.39h-2.66zM286.83 403.36h1.33v1.39h-1.33zM317.37 403.36h1.33v1.39h-1.33zM208.49 399.18h1.33v1.39h-1.33zM213.80 399.18h1.33v1.39h-1.33zM219.11 399.18h2.66v1.39h-2.66zM225.75 399.18h1.33v1.39h-1.33zM235.04 399.18h1.33v1.39h-1.33zM253.63 399.18h1.33v1.39h-1.33zM272.22 399.18h1.33v1.39h-1.33zM276.21 399.18h2.66v1.39h-2.66zM282.84 399.18h1.33v1.39h-1.33zM306.74 399.18h2.66v1.39h-2.66zM320.02 399.18h1.33v1.39h-1.33zM322.68 399.18h1.33v1.39h-1.33zM209.82 400.57h1.33v1.39h-1.33zM213.80 400.57h1.33v1.39h-1.33zM216.46 400.57h3.98v1.39h-3.98zM221.77 400.57h1.33v1.39h-1.33zM228.41 400.57h1.33v1.39h-1.33zM237.70 400.57h1.33v1.39h-1.33zM246.99 400.57h1.33v1.39h-1.33zM250.98 400.57h1.33v1.39h-1.33zM253.63 400.57h1.33v1.39h-1.33zM257.62 400.57h1.33v1.39h-1.33zM260.27 400.57h2.66v1.39h-2.66zM276.21 400.57h1.33v1.39h-1.33zM281.52 400.57h1.33v1.39h-1.33zM288.16 400.57h2.66v1.39h-2.66zM305.42 400.57h1.33v1.39h-1.33zM309.40 400.57h2.66v1.39h-2.66zM313.38 400.57h1.33v1.39h-1.33zM215.13 397.78h1.33v1.39h-1.33zM223.09 397.78h1.33v1.39h-1.33zM229.73 397.78h1.33v1.39h-1.33zM273.55 397.78h1.33v1.39h-1.33zM281.52 397.78h1.33v1.39h-1.33zM312.06 397.78h2.66v1.39h-2.66zM320.02 397.78h2.66v1.39h-2.66zM228.41 396.39h1.33v1.39h-1.33zM233.72 396.39h1.33v1.39h-1.33zM236.37 396.39h1.33v1.39h-1.33zM313.38 396.39h1.33v1.39h-1.33zM321.35 396.39h1.33v1.39h-1.33zM235.04 401.96h1.33v1.39h-1.33zM245.67 401.96h1.33v1.39h-1.33zM256.29 401.96h1.33v1.39h-1.33zM258.94 401.96h5.31v1.39h-5.31zM272.22 401.96h1.33v1.39h-1.33zM277.53 401.96h2.66v1.39h-2.66zM288.16 401.96h1.33v1.39h-1.33zM309.40 401.96h1.33v1.39h-1.33zM313.38 401.96h1.33v1.39h-1.33zM317.37 401.96h1.33v1.39h-1.33zM324.01 401.96h1.33v1.39h-1.33zM260.00 393.00h2.50v2.50h-2.50zM252.00 394.00h1.30v1.30h-1.30zM313.00 389.00h1.00v1.00h-1.00zM311.00 396.50h1.30v1.30h-1.30zM226.00 389.00h1.00v1.00h-1.00zM339.00 404.20h1.00v1.00h-1.00zM345.00 400.00h1.00v1.00h-1.00zM344.00 405.00h1.00v1.00h-1.00zM353.00 398.00h1.00v1.00h-1.00zM352.70 400.00h1.00v1.00h-1.00zM355.00 401.00h1.00v1.00h-1.00zM352.00 404.00h1.00v1.00h-1.00zM203.00 213.00h2.00v2.00h-2.00zM203.00 304.00h2.00v2.00h-2.00zM218.00 100.00h1.00v1.00h-1.00zM492.00 75.00h2.00v2.00h-2.00zM569.00 351.00h2.00v2.00h-2.00zM473.00 496.00h2.00v2.00h-2.00zM473.00 499.00h2.00v2.00h-2.00zM473.00 503.00h2.00v2.00h-2.00zM473.00 506.00h2.00v3.00h-2.00zM473.00 510.00h2.00v6.00h-2.00zM473.00 518.00h2.00v1.00h-2.00z"/>
<path fill="#dcdc00" d="M207.00 156.50h1.00v1.00h-1.00zM212.50 156.00h2.00v2.00h-2.00zM473.00 442.00h2.00v2.00h-2.00zM639.00 91.00h2.00v3.00h-2.00zM641.00 91.00h2.00v4.00h-2.00zM562.00 98.00h2.00v2.00h-2.00zM560.00 235.00h2.00v2.00h-2.00zM564.00 241.00h2.00v1.50h-2.00zM564.00 248.00h2.00v1.40h-2.00zM564.00 249.40h2.00v1.40h-2.00zM564.00 250.80h2.00v1.40h-2.00zM564.00 252.20h2.00v1.40h-2.00zM564.00 253.60h2.00v1.40h-2.00zM564.00 255.00h2.00v1.40h-2.00zM564.00 256.40h2.00v1.40h-2.00zM564.00 257.80h2.00v1.40h-2.00zM564.00 259.20h2.00v1.40h-2.00zM564.00 260.60h2.00v1.40h-2.00zM564.00 262.00h2.00v1.40h-2.00zM564.00 263.40h2.00v1.40h-2.00zM564.00 264.80h2.00v1.40h-2.00zM564.00 267.60h2.00v1.40h-2.00zM564.00 269.00h2.00v1.40h-2.00zM564.00 270.40h2.00v1.40h-2.00zM564.00 273.20h2.00v1.40h-2.00zM564.00 274.60h2.00v1.40h-2.00zM564.00 277.40h2.00v1.40h-2.00zM564.00 280.20h2.00v1.40h-2.00zM564.00 281.60h2.00v1.40h-2.00zM564.00 283.00h2.00v1.40h-2.00zM564.00 284.40h2.00v1.40h-2.00zM564.00 293.50h2.00v1.50h-2.00zM564.00 353.00h2.00v3.00h-2.00zM564.00 361.00h2.00v2.50h-2.00zM564.00 369.00h2.00v2.00h-2.00zM564.00 379.00h2.00v2.00h-2.00zM564.00 386.00h2.00v2.00h-2.00zM564.00 394.00h2.00v2.00h-2.00zM564.00 403.00h2.00v2.80h-2.00zM564.00 410.00h2.00v1.40h-2.00zM564.00 421.00h2.00v1.20h-2.00zM562.00 417.00h4.00v3.00h-4.00zM562.00 451.50h2.00v1.50h-2.00zM562.00 513.00h2.00v1.50h-2.00zM562.00 517.30h2.00v1.70h-2.00zM558.00 482.20h2.00v1.00h-2.00zM200.00 293.50h1.50v1.20h-1.50z"/>
<path fill="#f8b8b0" d="M208.50 411.00h1.20v1.20h-1.20zM473.00 516.30h2.00v1.70h-2.00zM560.00 432.00h2.00v4.50h-2.00z"/>
<path fill="#1800f0" d="M171.00 135.00h2.00v2.00h-2.00zM194.00 174.00h2.00v2.00h-2.00zM192.00 194.00h2.00v2.00h-2.00zM198.00 222.00h1.00v2.00h-1.00zM194.00 228.00h2.00v2.00h-2.00zM194.00 234.00h1.00v1.00h-1.00zM190.50 294.50h2.00v2.00h-2.00zM194.00 301.00h1.00v1.00h-1.00zM194.00 312.00h1.00v2.00h-1.00zM194.00 319.00h1.00v1.00h-1.00zM186.00 322.00h2.00v2.00h-2.00zM192.00 401.00h2.00v2.00h-2.00zM198.00 401.00h2.00v2.00h-2.00zM199.00 403.00h1.00v1.00h-1.00zM212.00 404.00h2.60v2.60h-2.60zM188.00 421.00h2.00v2.00h-2.00zM191.50 422.00h2.50v4.00h-2.50zM190.50 424.00h2.00v2.00h-2.00zM203.00 421.00h2.00v2.00h-2.00zM188.00 431.00h2.00v2.00h-2.00zM194.00 415.00h1.20v1.20h-1.20zM223.00 410.50h1.30v1.30h-1.30zM171.00 444.00h2.00v2.00h-2.00zM192.00 426.50h1.20v1.20h-1.20zM194.50 426.00h1.00v1.00h-1.00zM564.00 215.00h2.00v2.00h-2.00zM564.00 224.00h2.00v2.00h-2.00zM558.00 437.00h2.00v2.00h-2.00zM558.00 443.00h2.00v2.00h-2.00zM558.00 475.00h2.00v4.00h-2.00zM558.00 480.00h2.00v2.00h-2.00zM558.00 486.00h2.00v3.50h-2.00zM558.00 492.50h2.00v2.00h-2.00zM558.00 498.80h2.00v1.60h-2.00zM558.00 504.00h2.00v1.60h-2.00zM558.00 517.00h2.00v2.00h-2.00z"/>
<path fill="#10e0ff" d="M198.00 376.00h2.00v2.00h-2.00zM490.00 389.00h2.00v2.00h-2.00z"/>
<path fill="#40a8ff" d="M428.00 366.00h2.00v2.00h-2.00zM428.00 393.00h2.00v2.00h-2.00zM428.00 411.50h2.00v2.00h-2.00zM569.00 396.00h2.00v3.00h-2.00zM502.00 481.00h2.00v3.00h-2.00zM296.00 499.00h2.00v2.00h-2.00zM296.00 504.00h2.00v2.00h-2.00zM296.00 507.00h2.00v2.00h-2.00zM296.00 511.00h2.00v8.00h-2.00z"/></g><g fill="none" stroke="#000" stroke-linejoin="round"><polyline stroke="#ff48a8" stroke-width="2.8" stroke-dasharray="1.5 1.5" points="566.0,365.6 569.7,361.8 574.7,355.4 579.7,348.8 583.7,341.3 586.2,335.8 588.4,330.6 590.2,323.5 591.0,317.0"/><polyline stroke-width="1" points="165.5,444.8 172.0,442.6 180.0,440.6 192.5,438.0 205.0,436.3 218.5,434.9 245.0,432.3 271.0,429.7 285.0,428.5 330.0,425.4 360.0,423.0 390.0,420.4 420.0,417.8 450.0,415.2 480.0,412.5 511.0,409.4 540.0,405.2 560.0,401.6 570.0,399.1 580.0,396.4 585.0,394.6 590.0,392.5 591.5,390.5 591.0,388.0 588.0,385.8"/><polyline stroke-width="1" stroke-dasharray="6.5 4" points="588.0,385.8 585.0,383.6 582.0,381.6 575.0,377.6 560.0,372.6 540.0,367.4 511.0,359.8 485.0,353.4 450.0,344.6 431.0,340.0 405.0,333.5 378.5,327.0 352.0,319.4 325.0,311.4 298.5,301.0 283.0,294.0 260.0,281.8 240.0,271.0 221.5,260.4 205.0,246.4 192.5,235.0 185.0,225.5 175.0,211.0 165.5,194.0"/><polyline stroke-width="1" points="183.9,430.2 197.6,430.2 198.4,428.5 213.0,428.5 225.0,427.0 240.0,426.2 245.0,425.0 251.0,423.3 256.0,424.5 262.0,424.6 265.7,425.0 272.0,423.6 280.0,423.0 283.7,422.3 287.0,423.3 290.0,422.0 294.0,420.6 297.8,421.4 306.8,421.0 319.7,420.0 322.3,418.8 330.0,418.5 360.0,415.4 390.0,412.5 420.0,408.6 440.0,405.7 460.0,403.8 485.0,398.8 511.0,393.1 530.0,386.3 545.0,379.8 555.0,374.3 560.0,371.5 565.0,367.0 570.0,362.0 575.0,355.5 580.0,349.0 584.0,341.5 586.5,336.0 588.8,330.8 590.6,323.7 591.4,317.3"/>
</g>
<g shape-rendering="crispEdges" fill="#000">
<rect x="165" y="61" width="1" height="465"/>
<rect x="165" y="61" width="481" height="1"/>
<rect x="645" y="61" width="1" height="459"/>
<rect x="159" y="519" width="487" height="1"/>
<rect x="159" y="519" width="6" height="1"/>
<rect x="162" y="513" width="3" height="1"/>
<rect x="159" y="508" width="6" height="1"/>
<rect x="162" y="502" width="3" height="1"/>
<rect x="162" y="497" width="3" height="1"/>
<rect x="162" y="491" width="3" height="1"/>
<rect x="162" y="486" width="3" height="1"/>
<rect x="159" y="480" width="6" height="1"/>
<rect x="162" y="474" width="3" height="1"/>
<rect x="162" y="469" width="3" height="1"/>
<rect x="162" y="463" width="3" height="1"/>
<rect x="162" y="458" width="3" height="1"/>
<rect x="159" y="452" width="6" height="1"/>
<rect x="162" y="447" width="3" height="1"/>
<rect x="162" y="441" width="3" height="1"/>
<rect x="162" y="435" width="3" height="1"/>
<rect x="162" y="430" width="3" height="1"/>
<rect x="159" y="424" width="6" height="1"/>
<rect x="162" y="419" width="3" height="1"/>
<rect x="162" y="413" width="3" height="1"/>
<rect x="162" y="408" width="3" height="1"/>
<rect x="162" y="402" width="3" height="1"/>
<rect x="159" y="396" width="6" height="1"/>
<rect x="162" y="391" width="3" height="1"/>
<rect x="162" y="385" width="3" height="1"/>
<rect x="162" y="380" width="3" height="1"/>
<rect x="162" y="374" width="3" height="1"/>
<rect x="159" y="369" width="6" height="1"/>
<rect x="162" y="363" width="3" height="1"/>
<rect x="162" y="357" width="3" height="1"/>
<rect x="162" y="352" width="3" height="1"/>
<rect x="162" y="346" width="3" height="1"/>
<rect x="159" y="341" width="6" height="1"/>
<rect x="162" y="335" width="3" height="1"/>
<rect x="162" y="330" width="3" height="1"/>
<rect x="162" y="324" width="3" height="1"/>
<rect x="162" y="318" width="3" height="1"/>
<rect x="159" y="313" width="6" height="1"/>
<rect x="162" y="307" width="3" height="1"/>
<rect x="162" y="302" width="3" height="1"/>
<rect x="162" y="296" width="3" height="1"/>
<rect x="162" y="290" width="3" height="1"/>
<rect x="159" y="285" width="6" height="1"/>
<rect x="162" y="279" width="3" height="1"/>
<rect x="162" y="274" width="3" height="1"/>
<rect x="162" y="268" width="3" height="1"/>
<rect x="162" y="263" width="3" height="1"/>
<rect x="159" y="257" width="6" height="1"/>
<rect x="162" y="251" width="3" height="1"/>
<rect x="162" y="246" width="3" height="1"/>
<rect x="162" y="240" width="3" height="1"/>
<rect x="162" y="235" width="3" height="1"/>
<rect x="159" y="229" width="6" height="1"/>
<rect x="162" y="224" width="3" height="1"/>
<rect x="162" y="218" width="3" height="1"/>
<rect x="162" y="212" width="3" height="1"/>
<rect x="162" y="207" width="3" height="1"/>
<rect x="159" y="201" width="6" height="1"/>
<rect x="162" y="196" width="3" height="1"/>
<rect x="162" y="190" width="3" height="1"/>
<rect x="162" y="185" width="3" height="1"/>
<rect x="162" y="179" width="3" height="1"/>
<rect x="159" y="173" width="6" height="1"/>
<rect x="162" y="168" width="3" height="1"/>
<rect x="162" y="162" width="3" height="1"/>
<rect x="162" y="157" width="3" height="1"/>
<rect x="162" y="151" width="3" height="1"/>
<rect x="159" y="146" width="6" height="1"/>
<rect x="162" y="140" width="3" height="1"/>
<rect x="162" y="134" width="3" height="1"/>
<rect x="162" y="129" width="3" height="1"/>
<rect x="162" y="123" width="3" height="1"/>
<rect x="159" y="118" width="6" height="1"/>
<rect x="162" y="112" width="3" height="1"/>
<rect x="162" y="107" width="3" height="1"/>
<rect x="162" y="101" width="3" height="1"/>
<rect x="162" y="95" width="3" height="1"/>
<rect x="159" y="90" width="6" height="1"/>
<rect x="162" y="84" width="3" height="1"/>
<rect x="162" y="79" width="3" height="1"/>
<rect x="162" y="73" width="3" height="1"/>
<rect x="162" y="68" width="3" height="1"/>
<rect x="159" y="62" width="6" height="1"/>
<rect x="165" y="520" width="1" height="6"/>
<rect x="192" y="520" width="1" height="6"/>
<rect x="218" y="520" width="1" height="6"/>
<rect x="245" y="520" width="1" height="6"/>
<rect x="271" y="520" width="1" height="6"/>
<rect x="298" y="520" width="1" height="6"/>
<rect x="325" y="520" width="1" height="6"/>
<rect x="351" y="520" width="1" height="6"/>
<rect x="378" y="520" width="1" height="6"/>
<rect x="405" y="520" width="1" height="6"/>
<rect x="431" y="520" width="1" height="6"/>
<rect x="458" y="520" width="1" height="6"/>
<rect x="484" y="520" width="1" height="6"/>
<rect x="511" y="520" width="1" height="6"/>
<rect x="538" y="520" width="1" height="6"/>
<rect x="564" y="520" width="1" height="6"/>
<rect x="591" y="520" width="1" height="6"/>
<rect x="617" y="520" width="1" height="6"/>
<rect x="644" y="520" width="1" height="6"/>
</g>
<text class="a" transform="translate(155.5,457.922) scale(0.87,1)" text-anchor="end">200</text>
<text class="a" transform="translate(155.5,402.19) scale(0.87,1)" text-anchor="end">300</text>
<text class="a" transform="translate(155.5,346.459) scale(0.87,1)" text-anchor="end">400</text>
<text class="a" transform="translate(155.5,290.727) scale(0.87,1)" text-anchor="end">500</text>
<text class="a" transform="translate(155.5,234.995) scale(0.87,1)" text-anchor="end">600</text>
<text class="a" transform="translate(155.5,179.263) scale(0.87,1)" text-anchor="end">700</text>
<text class="a" transform="translate(155.5,123.532) scale(0.87,1)" text-anchor="end">800</text>
<text class="a" transform="translate(155.5,67.8) scale(0.87,1)" text-anchor="end">900</text>
<text class="a" transform="translate(155.5,524.8) scale(0.87,1)" text-anchor="end">80</text>
<path transform="translate(162.17,542) scale(0.941,1)" d="M5.1,0L2.6,0L2.6,-6.7C2,-6.1 1.4,-5.7 0.6,-5.4L0.6,-7.3C1.9,-7.9 2.9,-8.9 3.3,-10.45L5.1,-10.45Z" fill="#000"/>
<text class="a" transform="translate(188.79,542) scale(0.8,1)" text-anchor="start">2</text>
<text class="a" transform="translate(215.41,542) scale(0.8,1)" text-anchor="start">3</text>
<text class="a" transform="translate(242.03,542) scale(0.8,1)" text-anchor="start">4</text>
<text class="a" transform="translate(268.65,542) scale(0.8,1)" text-anchor="start">5</text>
<text class="a" transform="translate(295.27,542) scale(0.8,1)" text-anchor="start">6</text>
<text class="a" transform="translate(321.89,542) scale(0.8,1)" text-anchor="start">7</text>
<text class="a" transform="translate(348.51,542) scale(0.8,1)" text-anchor="start">8</text>
<text class="a" transform="translate(375.13,542) scale(0.8,1)" text-anchor="start">9</text>
<path transform="translate(398.48,542) scale(0.941,1)" d="M5.1,0L2.6,0L2.6,-6.7C2,-6.1 1.4,-5.7 0.6,-5.4L0.6,-7.3C1.9,-7.9 2.9,-8.9 3.3,-10.45L5.1,-10.45Z" fill="#000"/>
<text class="a" transform="translate(405.02,542) scale(0.8,1)" text-anchor="start">0</text>
<path transform="translate(425.10,542) scale(0.941,1)" d="M5.1,0L2.6,0L2.6,-6.7C2,-6.1 1.4,-5.7 0.6,-5.4L0.6,-7.3C1.9,-7.9 2.9,-8.9 3.3,-10.45L5.1,-10.45Z" fill="#000"/>
<path transform="translate(431.64,542) scale(0.941,1)" d="M5.1,0L2.6,0L2.6,-6.7C2,-6.1 1.4,-5.7 0.6,-5.4L0.6,-7.3C1.9,-7.9 2.9,-8.9 3.3,-10.45L5.1,-10.45Z" fill="#000"/>
<path transform="translate(451.72,542) scale(0.941,1)" d="M5.1,0L2.6,0L2.6,-6.7C2,-6.1 1.4,-5.7 0.6,-5.4L0.6,-7.3C1.9,-7.9 2.9,-8.9 3.3,-10.45L5.1,-10.45Z" fill="#000"/>
<text class="a" transform="translate(458.26,542) scale(0.8,1)" text-anchor="start">2</text>
<path transform="translate(478.34,542) scale(0.941,1)" d="M5.1,0L2.6,0L2.6,-6.7C2,-6.1 1.4,-5.7 0.6,-5.4L0.6,-7.3C1.9,-7.9 2.9,-8.9 3.3,-10.45L5.1,-10.45Z" fill="#000"/>
<text class="a" transform="translate(484.88,542) scale(0.8,1)" text-anchor="start">3</text>
<path transform="translate(504.96,542) scale(0.941,1)" d="M5.1,0L2.6,0L2.6,-6.7C2,-6.1 1.4,-5.7 0.6,-5.4L0.6,-7.3C1.9,-7.9 2.9,-8.9 3.3,-10.45L5.1,-10.45Z" fill="#000"/>
<text class="a" transform="translate(511.5,542) scale(0.8,1)" text-anchor="start">4</text>
<path transform="translate(531.58,542) scale(0.941,1)" d="M5.1,0L2.6,0L2.6,-6.7C2,-6.1 1.4,-5.7 0.6,-5.4L0.6,-7.3C1.9,-7.9 2.9,-8.9 3.3,-10.45L5.1,-10.45Z" fill="#000"/>
<text class="a" transform="translate(538.12,542) scale(0.8,1)" text-anchor="start">5</text>
<path transform="translate(558.20,542) scale(0.941,1)" d="M5.1,0L2.6,0L2.6,-6.7C2,-6.1 1.4,-5.7 0.6,-5.4L0.6,-7.3C1.9,-7.9 2.9,-8.9 3.3,-10.45L5.1,-10.45Z" fill="#000"/>
<text class="a" transform="translate(564.74,542) scale(0.8,1)" text-anchor="start">6</text>
<path transform="translate(584.82,542) scale(0.941,1)" d="M5.1,0L2.6,0L2.6,-6.7C2,-6.1 1.4,-5.7 0.6,-5.4L0.6,-7.3C1.9,-7.9 2.9,-8.9 3.3,-10.45L5.1,-10.45Z" fill="#000"/>
<text class="a" transform="translate(591.36,542) scale(0.8,1)" text-anchor="start">7</text>
<path transform="translate(611.44,542) scale(0.941,1)" d="M5.1,0L2.6,0L2.6,-6.7C2,-6.1 1.4,-5.7 0.6,-5.4L0.6,-7.3C1.9,-7.9 2.9,-8.9 3.3,-10.45L5.1,-10.45Z" fill="#000"/>
<text class="a" transform="translate(617.98,542) scale(0.8,1)" text-anchor="start">8</text>
<path transform="translate(638.06,542) scale(0.941,1)" d="M5.1,0L2.6,0L2.6,-6.7C2,-6.1 1.4,-5.7 0.6,-5.4L0.6,-7.3C1.9,-7.9 2.9,-8.9 3.3,-10.45L5.1,-10.45Z" fill="#000"/>
<text class="a" transform="translate(644.6,542) scale(0.8,1)" text-anchor="start">9</text>
<rect x="651" y="61" width="43" height="18" fill="#888888" shape-rendering="crispEdges"/>
<text class="l" x="652.3" y="75.5" textLength="37.9" lengthAdjust="spacingAndGlyphs">NoVal</text>
<rect x="651" y="80" width="43" height="18" fill="#10e0ff" shape-rendering="crispEdges"/>
<text class="l" x="652.3" y="94.5" textLength="25.4" lengthAdjust="spacingAndGlyphs">NNE</text>
<rect x="651" y="99" width="43" height="18" fill="#40a8ff" shape-rendering="crispEdges"/>
<text class="l" x="652.3" y="113.5" textLength="7.2" lengthAdjust="spacingAndGlyphs">E</text>
<rect x="651" y="118" width="43" height="18" fill="#b000a0" shape-rendering="crispEdges"/>
<text class="l" x="652.3" y="132.5" textLength="13.5" lengthAdjust="spacingAndGlyphs">W</text>
<rect x="651" y="137" width="43" height="18" fill="#ff48a8" shape-rendering="crispEdges"/>
<text class="l" x="652.3" y="151.5" textLength="21.9" lengthAdjust="spacingAndGlyphs">Vo-</text>
<rect x="651" y="156" width="43" height="18" fill="#ff0030" shape-rendering="crispEdges"/>
<text class="l" x="652.3" y="170.5" textLength="24.9" lengthAdjust="spacingAndGlyphs">Vo+</text>
<rect x="651" y="175" width="43" height="18" fill="#f8b8b0" shape-rendering="crispEdges"/>
<text class="l" x="652.3" y="189.5" textLength="30.9" lengthAdjust="spacingAndGlyphs">SSW</text>
<rect x="651" y="194" width="43" height="18" fill="#008000" shape-rendering="crispEdges"/>
<text class="l" x="652.3" y="208.5" textLength="13.7" lengthAdjust="spacingAndGlyphs">X-</text>
<rect x="651" y="213" width="43" height="18" fill="#80b860" shape-rendering="crispEdges"/>
<text class="l" x="652.3" y="227.5" textLength="16.1" lengthAdjust="spacingAndGlyphs">X+</text>
<rect x="651" y="232" width="43" height="18" fill="#d8d810" shape-rendering="crispEdges"/>
<text class="l" x="652.3" y="246.5" textLength="25.3" lengthAdjust="spacingAndGlyphs">SSE</text>
<rect x="651" y="251" width="43" height="18" fill="#2000e0" shape-rendering="crispEdges"/>
<text class="l" x="652.3" y="265.5" textLength="31.4" lengthAdjust="spacingAndGlyphs">NNW</text>
</svg>
</body></html>
